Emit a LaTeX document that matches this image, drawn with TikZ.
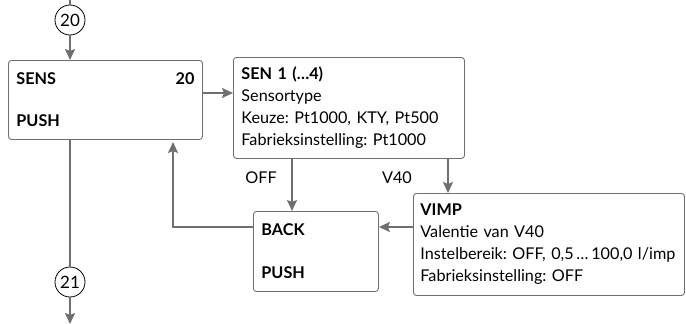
\documentclass[tikz,border=0pt]{standalone}
\usepackage{fontspec}
\setmainfont{Lato}
\usetikzlibrary{arrows.meta,positioning}
\definecolor{flowgray}{RGB}{110,111,114}
\frenchspacing

\begin{document}
\begin{tikzpicture}[x=1pt, y=-1pt,
    menubox/.style={draw=flowgray, line width=0.9pt, rounded corners=3pt, anchor=north west,
        align=left, inner xsep=8pt, inner ysep=0pt, font=\fontsize{16.2}{22}\selectfont},
    step number/.style={circle, draw=black, line width=0.8pt, minimum size=30pt, inner sep=0pt,
        font=\fontsize{17}{18}\selectfont},
    flowline/.style={draw=flowgray, line width=1.8pt},
    flowarrow/.style={flowline, -{Stealth[length=11pt, width=10pt, inset=2pt]}},
    choice/.style={font=\fontsize{16.2}{18}\selectfont}
]
\useasboundingbox (0,0) rectangle (686,324);

% Step circles
\node[step number] (c20) at (70,20) {20};
\node[step number] (c21) at (70,282) {21};
\coordinate (in) at (70,0);
\coordinate (out) at (70,324);

% Menu boxes
\node[menubox, minimum width=194pt, minimum height=79pt, text width=178pt] (sens) at (8,60)
    {\textbf{SENS}\hfill\textbf{20}\\[20pt]\textbf{PUSH}};
\node[menubox, minimum width=231pt, minimum height=101pt, text width=215pt] (sen) at (233,57)
    {\textbf{SEN 1 (…4)}\\Sensortype\\Keuze: Pt1000, KTY, Pt500\\Fabrieksinstelling: Pt1000};
\node[menubox, minimum width=125pt, minimum height=80pt, text width=109pt] (back) at (253,211)
    {\textbf{BACK}\\[21pt]\textbf{PUSH}};
\node[menubox, inner xsep=7pt, minimum width=271pt, minimum height=102pt, text width=257pt] (vimp) at (413,193)
    {\textbf{VIMP}\\Valentie van V40\\\mbox{Instelbereik: OFF, 0,5\,…\,100,0 l/imp}\\Fabrieksinstelling: OFF};

% Choice labels
\node[choice] (off) at (261,178) {OFF};
\node[choice] (v40) at (397,178) {V40};

% Arrows
\draw[flowline] (in) -- (c20);
\draw[flowarrow] (c20) -- (c20 |- sens.north);
\draw[flowarrow] (sens.east |- 0,93) -- (sen.west |- 0,93);
\draw[flowline] (sens.south -| c21) -- (c21);
\draw[flowarrow] (c21) -- (out);
\draw[flowarrow] (sen.south -| 292,0) -- (back.north -| 292,0);
\draw[flowarrow] (sen.south -| 448,0) -- (vimp.north -| 448,0);
\draw[flowarrow] (vimp.west |- 0,227) -- (back.east |- 0,227);
\draw[flowarrow] (back.west |- 0,227) -| (173,142);

\end{tikzpicture}
\end{document}
